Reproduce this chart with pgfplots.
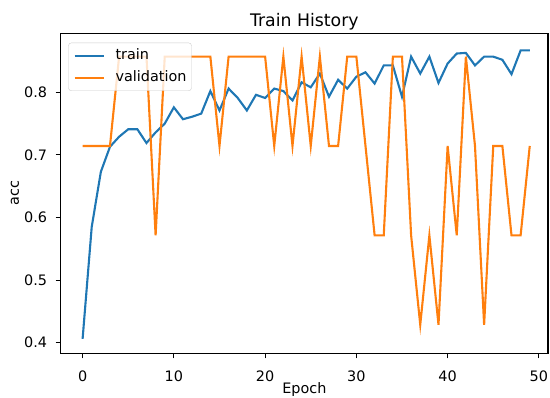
\documentclass[border=0pt]{standalone}
\usepackage{fontspec}
\setmainfont{DejaVu Sans}
\usepackage{pgfplots}
\pgfplotsset{compat=1.18}
\definecolor{mplblue}{HTML}{1F77B4}
\definecolor{mplorange}{HTML}{FF7F0E}
\begin{document}
\begin{tikzpicture}
\useasboundingbox (-60.7pt,-44.7pt) rectangle (489.3pt,353.3pt);
\begin{axis}[
  scale only axis,
  width=487.3pt, height=319.8pt,
  at={(0pt,0pt)}, anchor=south west,
  xmin=-2.4, xmax=51.0,
  ymin=0.383, ymax=0.894,
  xtick={0,10,20,30,40,50},
  ytick={0.4,0.5,0.6,0.7,0.8},
  tick pos=left,
  /pgf/number format/assume math mode=true,
  yticklabel style={/pgf/number format/fixed,/pgf/number format/precision=1,/pgf/number format/fixed zerofill},
  tick align=outside,
  major tick length=5pt,
  every tick/.style={black, line width=1.1pt},
  axis line style={line width=1.1pt, black},
  tick label style={font=\fontsize{14.4}{17}\selectfont},
  xticklabel style={anchor=base, inner sep=0pt, yshift=-23pt},
  yticklabel style={anchor=east, inner sep=0pt, xshift=-8.4pt},
  every axis x label/.style={at={(axis description cs:0.5,-0.1270)}, anchor=base, font=\fontsize{14.4}{17}\selectfont},
  every axis y label/.style={at={(axis description cs:-0.0856,0.5)}, rotate=90, anchor=base, font=\fontsize{14.4}{17}\selectfont},
  every axis title/.style={at={(axis description cs:0.5,1.0213)}, anchor=base, font=\fontsize{17.3}{20}\selectfont},
  title={Train History},
  xlabel={Epoch},
  ylabel={acc},
  legend cell align=left,
  legend image code/.code={\draw[#1] (0pt,0pt) -- (29pt,0pt);},
  legend style={at={(axis description cs:0.0156,0.9712)}, anchor=north west,
    draw=black!20, fill=white, fill opacity=0.8, text opacity=1,
    rounded corners=2.8pt, inner xsep=5pt, inner ysep=6pt,
    row sep=8.8pt,
    /tikz/every odd column/.append style={column sep=11pt},
    font=\fontsize{14.4}{17}\selectfont,
    nodes={inner xsep=0pt, inner ysep=0pt, text height=10.5pt, text depth=3pt}},
]
\addplot[mplblue, line width=2.1pt] coordinates {
(0,0.406) (1,0.585) (2,0.673) (3,0.713) (4,0.729) (5,0.741) (6,0.741) (7,0.719) (8,0.736) (9,0.750)
(10,0.776) (11,0.757) (12,0.761) (13,0.766) (14,0.802) (15,0.771) (16,0.806) (17,0.791) (18,0.771) (19,0.796)
(20,0.791) (21,0.806) (22,0.802) (23,0.787) (24,0.816) (25,0.808) (26,0.830) (27,0.793) (28,0.820) (29,0.806)
(30,0.825) (31,0.832) (32,0.814) (33,0.843) (34,0.843) (35,0.793) (36,0.857) (37,0.830) (38,0.857) (39,0.815)
(40,0.846) (41,0.862) (42,0.863) (43,0.843) (44,0.857) (45,0.857) (46,0.852) (47,0.829) (48,0.867) (49,0.867)
};
\addlegendentry{train}
\addplot[mplorange, line width=2.1pt] coordinates {
(0,0.7143) (1,0.7143) (2,0.7143) (3,0.7143) (4,0.8571) (5,0.8571) (6,0.8571) (7,0.8571) (8,0.5714) (9,0.8571)
(10,0.8571) (11,0.8571) (12,0.8571) (13,0.8571) (14,0.8571) (15,0.7143) (16,0.8571) (17,0.8571) (18,0.8571) (19,0.8571)
(20,0.8571) (21,0.7143) (22,0.8571) (23,0.7143) (24,0.8571) (25,0.7143) (26,0.8571) (27,0.7143) (28,0.7143) (29,0.8571)
(30,0.8571) (31,0.7143) (32,0.5714) (33,0.5714) (34,0.8571) (35,0.8571) (36,0.5714) (37,0.4286) (38,0.5714) (39,0.4286)
(40,0.7143) (41,0.5714) (42,0.8571) (43,0.7143) (44,0.4286) (45,0.7143) (46,0.7143) (47,0.5714) (48,0.5714) (49,0.7143)
};
\addlegendentry{validation}
\end{axis}
\end{tikzpicture}
\end{document}
